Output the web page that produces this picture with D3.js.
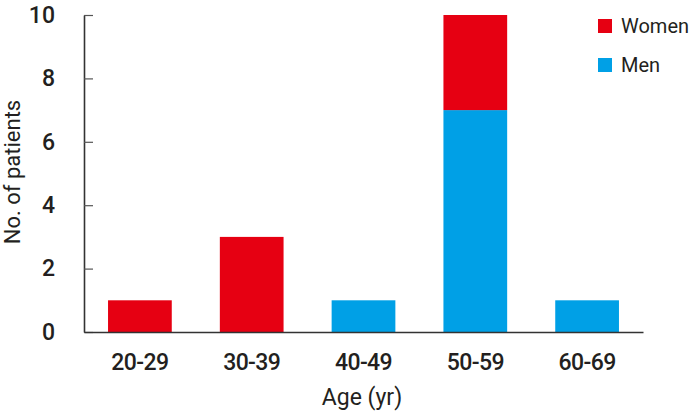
<!DOCTYPE html>
<html><head><meta charset="utf-8">
<script src="https://cdn.jsdelivr.net/npm/d3@7"></script>
<style>html,body{margin:0;padding:0;background:#fff;}</style>
</head><body>
<svg id="chart" width="690" height="414"></svg>
<script>
const categories = ["20-29", "30-39", "40-49", "50-59", "60-69"];
const men = [0, 0, 1, 7, 1];
const women = [1, 3, 0, 3, 0];
const yTicks = [0, 2, 4, 6, 8, 10];
const seriesNames = ["Women", "Men"];
const colors = {Men: "#00A0E6", Women: "#E60012"};

(function () {
const svg = d3.select("#chart");
const mLeft = 84, mRight = 643, mTop = 15, mBottom = 332;
const x = d3.scaleBand().domain(categories).range([mLeft, mRight]).paddingInner(0.43).paddingOuter(0.215);
const y = d3.scaleLinear().domain([0, 10]).range([mBottom, mTop]);

const rows = categories.map((c, i) => ({cat: c, Men: men[i], Women: women[i]}));
const stack = d3.stack().keys(["Men", "Women"])(rows);

svg.append("g").selectAll("g").data(stack).join("g")
  .attr("fill", d => colors[d.key])
  .selectAll("rect").data(d => d.filter(v => v[1] - v[0] > 0)).join("rect")
  .attr("x", d => x(d.data.cat))
  .attr("width", x.bandwidth())
  .attr("y", d => y(d[1]))
  .attr("height", d => y(d[0]) - y(d[1]));

const textColor = "#231F20";
// y axis
const yAxis = svg.append("g").attr("transform", `translate(${mLeft},0)`)
  .call(d3.axisLeft(y).tickValues(yTicks).tickSize(-9).tickPadding(29).tickSizeOuter(0));
yAxis.select(".domain").attr("stroke", "#333").attr("stroke-width", 1.6);
yAxis.selectAll(".tick line").attr("stroke", "#555").attr("stroke-width", 1.2);
yAxis.selectAll("text").attr("font-family", "Roboto").attr("font-size", 23).attr("font-weight", 500).attr("fill", textColor);

// x axis
const xAxis = svg.append("g").attr("transform", `translate(0,${mBottom})`)
  .call(d3.axisBottom(x).tickSize(0).tickPadding(22).tickSizeOuter(0));
xAxis.select(".domain").attr("stroke", "#333").attr("stroke-width", 1.6);
xAxis.selectAll("text").attr("font-family", "Roboto").attr("font-size", 23).attr("font-weight", 500)
  .attr("letter-spacing", -0.6).attr("fill", textColor);

// axis titles
svg.append("text").attr("x", 362).attr("y", 405).attr("text-anchor", "middle")
  .attr("font-family", "Roboto").attr("font-size", 23).attr("fill", textColor).text("Age (yr)");
svg.append("text").attr("transform", "translate(20,172) rotate(-90)").attr("text-anchor", "middle")
  .attr("font-family", "Roboto").attr("font-size", 22).attr("fill", textColor).text("No. of patients");

// legend
const legend = svg.append("g").selectAll("g").data(seriesNames).join("g")
  .attr("transform", (d, i) => `translate(598,${19 + i * 39})`);
legend.append("rect").attr("width", 14).attr("height", 14).attr("fill", d => colors[d]);
legend.append("text").attr("x", 23).attr("y", 14).attr("font-family", "Roboto").attr("font-size", 20)
  .attr("fill", textColor).text(d => d);
})();
</script>
</body></html>
